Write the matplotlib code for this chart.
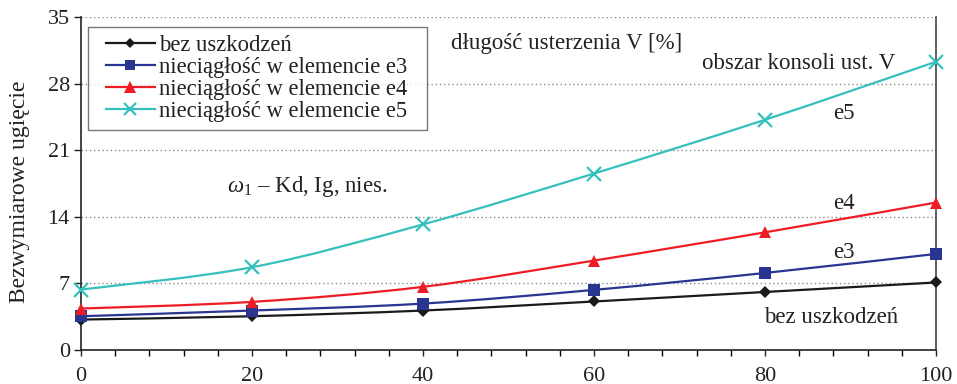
import matplotlib
matplotlib.use("Agg")
import matplotlib.pyplot as plt
from matplotlib.path import Path
from matplotlib.patches import PathPatch
from matplotlib.lines import Line2D
from matplotlib.legend_handler import HandlerLine2D
import numpy as np

plt.rcParams['font.family'] = ['Liberation Serif', 'DejaVu Serif']
plt.rcParams['mathtext.fontset'] = 'custom'
plt.rcParams['mathtext.it'] = 'Liberation Serif:italic'
plt.rcParams['mathtext.rm'] = 'Liberation Serif'

# Tail length share (%) and dimensionless deflection for each case
x_vals = [0, 20, 40, 60, 80, 100]
bez_uszkodzen = [3.2, 3.55, 4.15, 5.1, 6.1, 7.1]
e3 = [3.55, 4.15, 4.88, 6.32, 8.1, 10.1]
e4 = [4.36, 5.06, 6.64, 9.4, 12.37, 15.5]
e5 = [6.35, 8.7, 13.2, 18.55, 24.2, 30.3]

series_labels = ["bez uszkodzeń",
                 "nieciągłość w elemencie e3",
                 "nieciągłość w elemencie e4",
                 "nieciągłość w elemencie e5"]
y_ticks = [0, 7, 14, 21, 28, 35]
x_ticks = [0, 20, 40, 60, 80, 100]

styles = [
    dict(color="#1a1a1a", marker="D", ms=6, mew=0),
    dict(color="#2a3591", marker="s", ms=8.5, mew=0),
    dict(color="#ee1c25", marker="^", ms=9, mew=0),
    dict(color="#35c0bd", marker="x", ms=10, mew=1.6),
]


def smooth_path(xs, ys):
    """Cubic Bezier path through the points (Catmull-Rom style smoothing)."""
    p = np.column_stack([xs, ys]).astype(float)
    n = len(p)
    verts = [p[0]]
    codes = [Path.MOVETO]
    for i in range(n - 1):
        p0 = p[i - 1] if i > 0 else p[i]
        p1 = p[i]
        p2 = p[i + 1]
        p3 = p[i + 2] if i + 2 < n else p[i + 1]
        c1 = p1 + (p2 - p0) / 6.0
        c2 = p2 - (p3 - p1) / 6.0
        verts += [c1, c2, p2]
        codes += [Path.CURVE4] * 3
    return Path(verts, codes)


fig = plt.figure(figsize=(9.57, 3.84), dpi=100)
ax = fig.add_axes([0.0846, 0.0885, 0.8935, 0.8672])

handles = []
for ys, st, lab in zip([bez_uszkodzen, e3, e4, e5], styles, series_labels):
    patch = PathPatch(smooth_path(x_vals, ys), facecolor="none",
                      edgecolor=st["color"], lw=1.6, zorder=3)
    ax.add_patch(patch)
    ax.plot(x_vals, ys, linestyle="none", marker=st["marker"], ms=st["ms"],
            color=st["color"], mew=st["mew"], zorder=4, clip_on=False)
    handles.append(Line2D([], [], color=st["color"], lw=1.6,
                          marker=st["marker"], ms=st["ms"] * 0.9,
                          mew=st["mew"], label=lab + "\u2002"))

ax.set_xlim(0, 100)
ax.set_ylim(0, 35)
ax.set_xticks(x_ticks)
ax.set_xticks(np.arange(0, 101, 4), minor=True)
ax.set_yticks(y_ticks)
ax.tick_params(axis="both", labelsize=16, colors="#222222", direction="out")
ax.tick_params(axis="x", which="major", length=4, width=1, pad=8)
ax.tick_params(axis="x", which="minor", length=4, width=1)
ax.tick_params(axis="y", which="major", length=5, width=1, pad=3)
for t in ax.get_xticklabels() + ax.get_yticklabels():
    t.set_color("#222222")

ax.grid(axis="y", linestyle=(0, (1, 2)), color="#8c8c8c", lw=1)
ax.spines["top"].set_visible(False)
ax.spines["left"].set_color("#222222")
ax.spines["bottom"].set_color("#222222")
ax.spines["right"].set_color("#444444")
for s in ax.spines.values():
    s.set_linewidth(1.2)

ax.set_ylabel("Bezwymiarowe ugięcie", fontsize=17, color="#222222")
ax.yaxis.set_label_coords(-0.06, 0.475)

handler = HandlerLine2D(xpad=0.44)
leg = ax.legend(handles=handles, loc="upper left", bbox_to_anchor=(0.008, 0.97),
                fontsize=16.3, frameon=True, fancybox=False, handlelength=2.6,
                handletextpad=0.2, borderpad=0.35, labelspacing=0.05,
                borderaxespad=0, handler_map={Line2D: handler})
leg.get_frame().set_edgecolor("#555555")
leg.get_frame().set_linewidth(1.0)
for t in leg.get_texts():
    t.set_color("#222222")

txt = dict(fontsize=16.5, color="#222222", ha="center", va="center")
ax.text(56.8, 32.2, "długość usterzenia V [%]", **txt)
ax.text(83.9, 30.1, "obszar konsoli ust. V", **txt)
ax.text(89.2, 24.9, "e5", **txt)
ax.text(89.2, 15.4, "e4", **txt)
ax.text(89.2, 10.3, "e3", **txt)
ax.text(87.7, 3.4, "bez uszkodzeń", **txt)
ax.text(26.5, 17.2, r"$\omega_1$ – Kd, Ig, nies.", **txt)

fig.savefig("out.png", dpi=100)
